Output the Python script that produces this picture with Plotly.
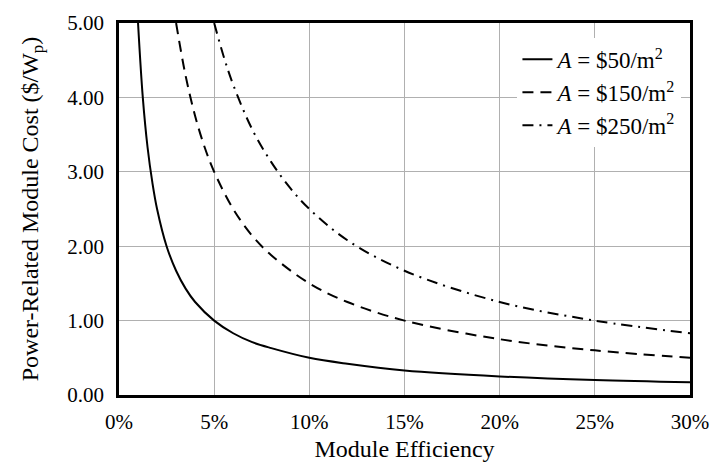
import plotly.graph_objects as go

# Efficiencies (fraction) and read-off costs ($/Wp)
eff_50 = [0.010, 0.0125, 0.015, 0.0175, 0.020, 0.025, 0.030, 0.035, 0.040, 0.050, 0.060, 0.070, 0.080,
          0.100, 0.120, 0.150, 0.200, 0.250, 0.300]
cost_50 = [5.00, 4.00, 3.33, 2.86, 2.50, 2.00, 1.67, 1.43, 1.25, 1.00, 0.83, 0.71, 0.63,
           0.50, 0.42, 0.33, 0.25, 0.20, 0.17]

eff_150 = [0.030, 0.035, 0.040, 0.045, 0.050, 0.060, 0.070, 0.080, 0.100, 0.120, 0.150, 0.200, 0.250, 0.300]
cost_150 = [5.00, 4.29, 3.75, 3.33, 3.00, 2.50, 2.14, 1.88, 1.50, 1.25, 1.00, 0.75, 0.60, 0.50]

eff_250 = [0.050, 0.055, 0.060, 0.070, 0.080, 0.090, 0.100, 0.120, 0.150, 0.200, 0.250, 0.300]
cost_250 = [5.00, 4.55, 4.17, 3.57, 3.13, 2.78, 2.50, 2.08, 1.67, 1.25, 1.00, 0.83]

x_ticks = [0, 0.05, 0.10, 0.15, 0.20, 0.25, 0.30]
y_ticks = [0, 1, 2, 3, 4, 5]

FONT = "Liberation Serif"
TICK_FONT = dict(family=FONT, size=21, color="black")
TITLE_FONT = dict(family=FONT, size=24, color="black")

fig = go.Figure()
fig.add_trace(go.Scatter(x=eff_50, y=cost_50, mode="lines", line=dict(color="black", width=2, dash="solid", shape="spline"),
                         name="<i>A</i> = $50/m<sup>2</sup>"))
fig.add_trace(go.Scatter(x=eff_150, y=cost_150, mode="lines", line=dict(color="black", width=2, dash="11px,7px", shape="spline"),
                         name="<i>A</i> = $150/m<sup>2</sup>"))
fig.add_trace(go.Scatter(x=eff_250, y=cost_250, mode="lines", line=dict(color="black", width=2, dash="11px,6px,2px,6px", shape="spline"),
                         name="<i>A</i> = $250/m<sup>2</sup>"))

fig.update_layout(
    width=720, height=471,
    margin=dict(l=119, r=25, t=11, b=76),
    paper_bgcolor="white", plot_bgcolor="white",
    font=dict(family=FONT, size=21, color="black"),
    showlegend=True,
    legend=dict(x=0.985, y=0.96, xanchor="right", yanchor="top", bgcolor="white",
                font=dict(family=FONT, size=23, color="black"), tracegroupgap=0, itemwidth=30),
    xaxis=dict(range=[0, 0.30], tickvals=x_ticks, tickformat=".0%", tickfont=TICK_FONT,
               showgrid=True, gridcolor="#b0b0b0",
               gridwidth=1, showline=True, linecolor="black", linewidth=2.5, mirror=True, ticks="",
               ticklabelstandoff=6,
               zeroline=False, title=dict(text="Module Efficiency", standoff=8, font=TITLE_FONT)),
    yaxis=dict(range=[0, 5], tickvals=y_ticks, tickformat=".2f", tickfont=TICK_FONT,
               showgrid=True, gridcolor="#b0b0b0",
               gridwidth=1, showline=True, linecolor="black", linewidth=2.5, mirror=True, ticks="",
               ticklabelstandoff=8,
               zeroline=False, title=dict(text="Power-Related Module Cost ($/W<sub>p</sub>)", standoff=22,
                                          font=TITLE_FONT)),
)

fig.write_html("out.html")
